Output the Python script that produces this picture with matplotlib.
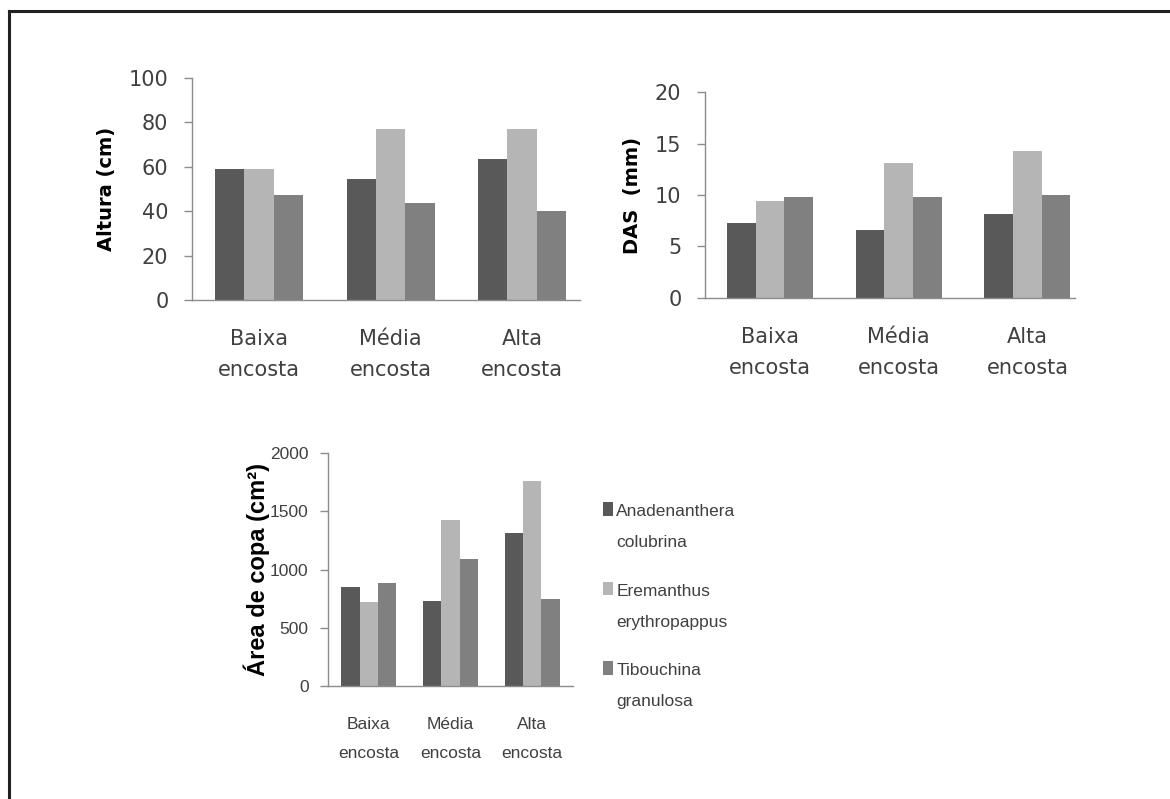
import matplotlib
matplotlib.use("Agg")
import numpy as np
import matplotlib.pyplot as plt
from matplotlib.patches import Patch, Rectangle
from matplotlib.legend_handler import HandlerPatch
from matplotlib.lines import Line2D
from matplotlib.font_manager import FontProperties

# data
categories = ["Baixa\nencosta", "Média\nencosta", "Alta\nencosta"]
species = ["Anadenanthera\ncolubrina", "Eremanthus\nerythropappus", "Tibouchina\ngranulosa"]
colors = ["#595959", "#b5b5b5", "#808080"]

# one list per species, values for Baixa / Média / Alta
altura = [[59, 54.5, 63.5],
          [59, 77, 77],
          [47.5, 43.5, 40]]
das = [[7.3, 6.6, 8.2],
       [9.4, 13.1, 14.3],
       [9.8, 9.8, 10.0]]
copa = [[850, 730, 1316],
        [721, 1422, 1760],
        [884, 1093, 744]]

W, H = 1170, 799
fig = plt.figure(figsize=(W / 100, H / 100), dpi=100)

wide = FontProperties(family="DejaVu Sans", size=15)
narrow = FontProperties(family="Liberation Sans", size=12.5)
axis_gray = "#8c8c8c"
text_gray = "#404040"


def px_box(x0, x1, ytop, ybot):
    return [x0 / W, 1 - ybot / H, (x1 - x0) / W, (ybot - ytop) / H]


def draw_panel(rect, values, xlim, ymax, ystep, ylabel, label_x, tick_font,
               label_font, ypad, xpad, ls):
    ax = fig.add_axes(rect)
    x = np.arange(len(categories))
    w = 0.67 / 3
    for i, vals in enumerate(values):
        ax.bar(x + (i - 1) * w, vals, width=w, color=colors[i], linewidth=0)
    ax.set_xlim(*xlim)
    ax.set_ylim(0, ymax)
    ax.set_yticks(np.arange(0, ymax + 1, ystep))
    ax.set_xticks(x)
    ax.set_xticklabels(categories)
    for s in ["top", "right"]:
        ax.spines[s].set_visible(False)
    for s in ["left", "bottom"]:
        ax.spines[s].set_color(axis_gray)
        ax.spines[s].set_linewidth(1.0)
    ax.tick_params(axis="x", length=0, pad=xpad)
    ax.tick_params(axis="y", length=6, width=1.0, color=axis_gray, pad=ypad)
    for t in ax.get_xticklabels() + ax.get_yticklabels():
        t.set_fontproperties(tick_font)
        t.set_color(text_gray)
    for t in ax.get_xticklabels():
        t.set_linespacing(ls)
    ax.set_ylabel(ylabel, fontproperties=label_font)
    ax.yaxis.set_label_coords(label_x, 0.5)
    return ax


ax1 = draw_panel(px_box(192, 580, 78, 300), altura, (-0.51, 2.44), 100, 20,
                 "Altura (cm)", -0.196, wide,
                 FontProperties(family="DejaVu Sans", weight="bold", size=14),
                 11, 20.7, 1.72)
ax2 = draw_panel(px_box(705, 1075, 92, 298), das, (-0.505, 2.37), 20, 5,
                 "DAS  (mm)", -0.170, wide,
                 FontProperties(family="DejaVu Sans", weight="bold", size=14),
                 11, 20.7, 1.72)
ax3 = draw_panel(px_box(328, 573, 453, 686), copa, (-0.5, 2.5), 2000, 500,
                 "Área de copa (cm²)", -0.237, narrow,
                 FontProperties(family="Liberation Sans", weight="bold", size=17),
                 8, 22, 2.2)


def square(legend, orig_handle, xdescent, ydescent, width, height, fontsize):
    return Rectangle((-xdescent, -ydescent + height / 2 + 13 - 5), 7, 10)


handles = [Patch(facecolor=c) for c in colors]
leg = ax3.legend(handles, species, loc="upper left",
                 bbox_to_anchor=(603 / W, 1 - 504 / H), bbox_transform=fig.transFigure,
                 frameon=False, borderpad=0, borderaxespad=0,
                 handlelength=0.56, handletextpad=0.2, labelspacing=1.95,
                 prop=narrow, handler_map={Patch: HandlerPatch(patch_func=square)})
for t in leg.get_texts():
    t.set_linespacing(2.32)
    t.set_color(text_gray)

# outer frame (left and top edges only are visible)
fig.add_artist(Line2D([8.5 / W, 8.5 / W], [0, 1 - 10.5 / H], transform=fig.transFigure,
                      color="#222222", lw=2.2))
fig.add_artist(Line2D([8.5 / W, 1], [1 - 10.5 / H, 1 - 10.5 / H], transform=fig.transFigure,
                      color="#222222", lw=2.2))

fig.savefig("out.png", dpi=100)
